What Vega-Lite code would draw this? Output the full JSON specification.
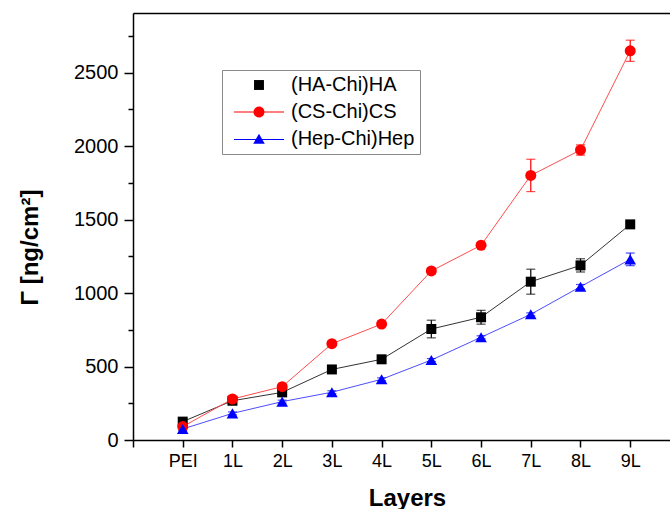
{
  "$schema": "https://vega.github.io/schema/vega-lite/v6.json",
  "width": 537,
  "height": 427,
  "autosize": {"type": "none"},
  "padding": {"left": 133, "top": 13, "right": 0, "bottom": 69},
  "background": "white",
  "config": {"font": "Liberation Sans", "view": {"stroke": null}, "axis": {"grid": false}},
  "data": {"values": [
    {"layer": "PEI", "idx": 0, "series": "(HA-Chi)HA", "value": 125, "err": 10},
    {"layer": "1L", "idx": 1, "series": "(HA-Chi)HA", "value": 267, "err": 10},
    {"layer": "2L", "idx": 2, "series": "(HA-Chi)HA", "value": 324, "err": 15},
    {"layer": "3L", "idx": 3, "series": "(HA-Chi)HA", "value": 480, "err": 15},
    {"layer": "4L", "idx": 4, "series": "(HA-Chi)HA", "value": 549, "err": 12},
    {"layer": "5L", "idx": 5, "series": "(HA-Chi)HA", "value": 755, "err": 60},
    {"layer": "6L", "idx": 6, "series": "(HA-Chi)HA", "value": 835, "err": 47},
    {"layer": "7L", "idx": 7, "series": "(HA-Chi)HA", "value": 1077, "err": 85},
    {"layer": "8L", "idx": 8, "series": "(HA-Chi)HA", "value": 1188, "err": 45},
    {"layer": "9L", "idx": 9, "series": "(HA-Chi)HA", "value": 1467, "err": 15},
    {"layer": "PEI", "idx": 0, "series": "(CS-Chi)CS", "value": 91, "err": 10},
    {"layer": "1L", "idx": 1, "series": "(CS-Chi)CS", "value": 279, "err": 10},
    {"layer": "2L", "idx": 2, "series": "(CS-Chi)CS", "value": 363, "err": 10},
    {"layer": "3L", "idx": 3, "series": "(CS-Chi)CS", "value": 655, "err": 10},
    {"layer": "4L", "idx": 4, "series": "(CS-Chi)CS", "value": 789, "err": 10},
    {"layer": "5L", "idx": 5, "series": "(CS-Chi)CS", "value": 1150, "err": 20},
    {"layer": "6L", "idx": 6, "series": "(CS-Chi)CS", "value": 1325, "err": 10},
    {"layer": "7L", "idx": 7, "series": "(CS-Chi)CS", "value": 1800, "err": 110},
    {"layer": "8L", "idx": 8, "series": "(CS-Chi)CS", "value": 1973, "err": 35},
    {"layer": "9L", "idx": 9, "series": "(CS-Chi)CS", "value": 2648, "err": 72},
    {"layer": "PEI", "idx": 0, "series": "(Hep-Chi)Hep", "value": 75, "err": 12},
    {"layer": "1L", "idx": 1, "series": "(Hep-Chi)Hep", "value": 181, "err": 10},
    {"layer": "2L", "idx": 2, "series": "(Hep-Chi)Hep", "value": 261, "err": 10},
    {"layer": "3L", "idx": 3, "series": "(Hep-Chi)Hep", "value": 325, "err": 10},
    {"layer": "4L", "idx": 4, "series": "(Hep-Chi)Hep", "value": 413, "err": 10},
    {"layer": "5L", "idx": 5, "series": "(Hep-Chi)Hep", "value": 544, "err": 10},
    {"layer": "6L", "idx": 6, "series": "(Hep-Chi)Hep", "value": 699, "err": 10},
    {"layer": "7L", "idx": 7, "series": "(Hep-Chi)Hep", "value": 855, "err": 10},
    {"layer": "8L", "idx": 8, "series": "(Hep-Chi)Hep", "value": 1043, "err": 15},
    {"layer": "9L", "idx": 9, "series": "(Hep-Chi)Hep", "value": 1229, "err": 43}
  ]},
  "layer": [
    {
      "encoding": {
        "x": {"field": "idx", "type": "quantitative",
          "scale": {"domain": [-1, 9.8], "nice": false, "zero": false},
          "axis": {"values": [-1, 0, 1, 2, 3, 4, 5, 6, 7, 8, 9],
            "labelExpr": "datum.value == 0 ? 'PEI' : (datum.value < 0 ? '' : datum.value + 'L')",
            "tickSize": 7, "tickWidth": 1.5, "tickColor": "black",
            "domainColor": "black", "domainWidth": 1.5,
            "labelFontSize": 18, "labelPadding": 5, "labelColor": "black",
            "labelFlush": false, "labelOverlap": false,
            "title": "Layers", "titleFontSize": 24, "titleFontWeight": "bold", "titleColor": "black",
            "titleX": 274, "titleY": 65, "titleBaseline": "alphabetic", "titleAlign": "center"}},
        "y": {"field": "value", "type": "quantitative",
          "scale": {"domain": [0, 2905], "nice": false},
          "axis": {"values": [0, 500, 1000, 1500, 2000, 2500], "format": "d",
            "tickSize": 9, "tickWidth": 1.5, "tickColor": "black",
            "domainColor": "black", "domainWidth": 1.5,
            "labelFontSize": 20, "labelColor": "black", "labelPadding": 6,
            "title": "Γ [ng/cm²]", "titleFontSize": 24, "titleFontWeight": "bold", "titleColor": "black",
            "titleX": -103, "titleY": 234, "titleAngle": 270, "titleAlign": "center", "titleBaseline": "middle"}}
      },
      "layer": [
        {
          "transform": [{"filter": {"field": "series", "equal": "(HA-Chi)HA"}}],
          "mark": {"type": "line", "strokeWidth": 1, "color": "#333333"}
        },
        {
          "transform": [{"filter": {"field": "series", "equal": "(CS-Chi)CS"}}],
          "mark": {"type": "line", "strokeWidth": 1, "color": "#ff4d4d"}
        },
        {
          "transform": [{"filter": {"field": "series", "equal": "(Hep-Chi)Hep"}}],
          "mark": {"type": "line", "strokeWidth": 1, "color": "#4d4dff"}
        },
        {
          "transform": [{"filter": {"field": "series", "equal": "(HA-Chi)HA"}}],
          "mark": {"type": "errorbar", "ticks": {"size": 9}, "thickness": 1.2, "color": "black"},
          "encoding": {"yError": {"field": "err"}}
        },
        {
          "transform": [{"filter": {"field": "series", "equal": "(CS-Chi)CS"}}],
          "mark": {"type": "errorbar", "ticks": {"size": 9}, "thickness": 1.2, "color": "red"},
          "encoding": {"yError": {"field": "err"}}
        },
        {
          "transform": [{"filter": {"field": "series", "equal": "(Hep-Chi)Hep"}}],
          "mark": {"type": "errorbar", "ticks": {"size": 9}, "thickness": 1.2, "color": "blue"},
          "encoding": {"yError": {"field": "err"}}
        },
        {
          "transform": [{"filter": {"field": "series", "equal": "(HA-Chi)HA"}}],
          "mark": {"type": "point", "shape": "square", "filled": true, "color": "black", "size": 100, "opacity": 1}
        },
        {
          "transform": [{"filter": {"field": "series", "equal": "(CS-Chi)CS"}}],
          "mark": {"type": "point", "shape": "circle", "filled": true, "color": "red", "size": 121, "opacity": 1}
        },
        {
          "transform": [{"filter": {"field": "series", "equal": "(Hep-Chi)Hep"}}],
          "mark": {"type": "point", "shape": "triangle-up", "filled": true, "color": "blue", "size": 135, "opacity": 1}
        }
      ]
    },
    {
      "transform": [{"filter": "datum.value < 0"}],
      "mark": {"type": "point", "filled": true, "opacity": 1},
      "encoding": {
        "x": {"field": "idx", "type": "quantitative",
          "scale": {"domain": [-1, 9.8], "nice": false, "zero": false},
          "axis": {"orient": "top", "ticks": false, "labels": false, "domain": true,
            "domainColor": "black", "domainWidth": 1.5, "title": null}},
        "y": {"field": "value", "type": "quantitative",
          "scale": {"domain": [0, 2905], "nice": false},
          "axis": {"orient": "left", "values": [250, 750, 1250, 1750, 2250, 2750],
            "tickSize": 5, "tickWidth": 1.5, "tickColor": "black",
            "labels": false, "domain": false, "title": null}},
        "color": {"field": "series", "type": "nominal",
          "scale": {"domain": ["(HA-Chi)HA", "(CS-Chi)CS", "(Hep-Chi)Hep"], "range": ["black", "red", "blue"]},
          "legend": {"title": null, "orient": "none", "legendX": 89, "legendY": 57, "padding": 5,
            "strokeColor": "#8a8a8a", "fillColor": "white", "symbolSize": 121,
            "labelFontSize": 20, "labelColor": "black", "rowPadding": 7, "labelOffset": 22,
            "symbolOffset": 22}},
        "shape": {"field": "series", "type": "nominal",
          "scale": {"domain": ["(HA-Chi)HA", "(CS-Chi)CS", "(Hep-Chi)Hep"],
            "range": [
              "M-0.9,-0.9L0.9,-0.9L0.9,0.9L-0.9,0.9Z",
              "M1,0A1,1 0 1,1 -1,0A1,1 0 1,1 1,0Z M-4.55,-0.08L4.55,-0.08L4.55,0.08L-4.55,0.08Z",
              "M0,-0.95L1.05,0.85L-1.05,0.85Z M-4.55,0.02L4.55,0.02L4.55,0.18L-4.55,0.18Z"
            ]},
          "legend": {"title": null, "orient": "none", "legendX": 89, "legendY": 57, "padding": 5,
            "strokeColor": "#8a8a8a", "fillColor": "white", "symbolSize": 121,
            "labelFontSize": 20, "labelColor": "black", "rowPadding": 7, "labelOffset": 22,
            "symbolOffset": 22}}
      }
    }
  ],
  "resolve": {"axis": {"x": "independent", "y": "independent"}}
}
